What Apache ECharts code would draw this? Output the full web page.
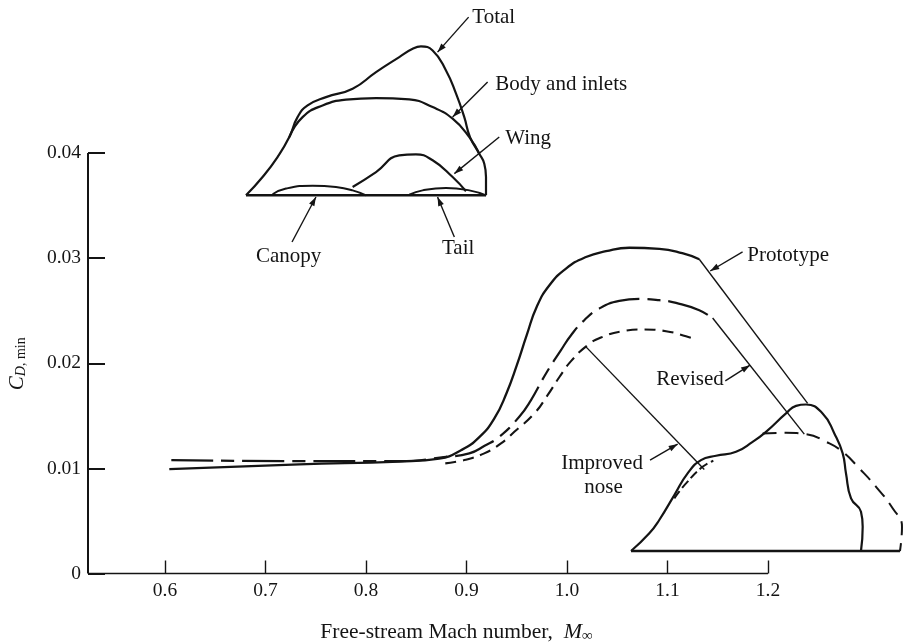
<!DOCTYPE html>
<html>
<head>
<meta charset="utf-8">
<style>html,body{margin:0;padding:0;background:#fff}#c{width:905px;height:643px}</style>
<script src="https://cdn.jsdelivr.net/npm/echarts@6/dist/echarts.min.js"></script>
</head>
<body>
<div id="c"></div>
<script>
// Drag curves: [Mach, CD]
const prototypeCurve = [[.6043,.00993],[.7336,.01038],[.8331,.01065],[.8729,.01093],[.8950,.01175],[.9130,.01300],[.9280,.01480],[.9400,.01720],[.9500,.01980],[.9600,.02270],[.9700,.02540],[.9825,.02742],[.9990,.02901],[1.0189,.03011],[1.0388,.03066],[1.0620,.03099],[1.0919,.03089],[1.1147,.03047],[1.1316,.02990]];
const revisedCurve = [[.6063,.01079],[.7336,.01069],[.8331,.01069],[.8796,.01110],[.9028,.01143],[.9180,.01215],[.9326,.01300],[.9525,.01491],[.9642,.01650],[.9791,.01903],[.9940,.02125],[1.0040,.02267],[1.0172,.02410],[1.0322,.02521],[1.0520,.02593],[1.0719,.02612],[1.0919,.02600],[1.1085,.02574],[1.1316,.02505],[1.1449,.02426]];
const improvedCurve = [[.8789,.01048],[.8978,.01079],[.9177,.01143],[.9343,.01238],[.9476,.01348],[.9675,.01523],[.9807,.01697],[.9923,.01867],[1.0040,.02020],[1.0205,.02172],[1.0338,.02245],[1.0553,.02305],[1.0769,.02321],[1.0985,.02305],[1.1184,.02258],[1.1285,.02225]];
// Upper inset (area distribution breakdown)
const insetBase = [[.6806,.03598],[.9194,.03598]];
const insetTotal = [[.6806,.03598],[.6971,.03772],[.7120,.03962],[.7237,.04152],[.7319,.04342],[.7419,.04453],[.7602,.04532],[.7867,.04612],[.8100,.04770],[.8331,.04913],[.8464,.04992],[.8547,.05014],[.8663,.04976],[.8796,.04786],[.8896,.04565],[.8978,.04342],[.9035,.04152],[.9127,.03994],[.9177,.03899],[.9194,.03772],[.9194,.03598]];
const insetBody = [[.7237,.04152],[.7369,.04342],[.7568,.04453],[.7801,.04508],[.8100,.04523],[.8431,.04510],[.8663,.04437],[.8862,.04327],[.9028,.04152],[.9127,.03994]];
const insetWing = [[.7867,.03677],[.8100,.03819],[.8331,.03978],[.8497,.03988],[.8663,.03931],[.8862,.03772],[.8995,.03636]];
const insetCanopy = [[.7071,.03608],[.7204,.03662],[.7469,.03690],[.7701,.03677],[.7867,.03645],[.8000,.03598]];
const insetTail = [[.8431,.03605],[.8563,.03645],[.8796,.03667],[.9028,.03645],[.9194,.03598]];
// Lower inset (prototype vs improved area distribution)
const lowerBase = [[1.0637,.00214],[1.3313,.00214]];
const lowerSolid = [[1.0637,.00214],[1.0819,.00382],[1.0918,.00509],[1.1068,.00746],[1.1200,.00952],[1.1333,.01079],[1.1483,.01120],[1.1682,.01158],[1.1847,.01253],[1.1980,.01348],[1.2179,.01523],[1.2279,.01595],[1.2378,.01608],[1.2543,.01523],[1.2660,.01333],[1.2743,.01143],[1.2776,.00952],[1.2826,.00715],[1.2925,.00587],[1.2942,.00445],[1.2925,.00214]];
const lowerDashA = [[1.1068,.00715],[1.1184,.00857],[1.1349,.01015],[1.1456,.01072]];
const lowerDashB = [[1.1946,.01333],[1.2179,.01338],[1.2378,.01326],[1.2577,.01253],[1.2743,.01158],[1.2908,.01000],[1.3075,.00825],[1.3240,.00620],[1.3333,.00445],[1.3313,.00214]];
// Leaders: x1, y1, x2, y2, arrow (1) at the second end
const leaders = [[1.1316,.0299,1.2394,.01618,0],[1.1449,.02431,1.2361,.01326,0],[1.0189,.02156,1.1366,.00990,0],
  [1.1747,.03059,1.1425,.02878,1],[1.1575,.01833,1.1821,.01982,1],[1.0826,.01079,1.1101,.01231,1],
  [.9021,.05293,.8712,.04960,1],[.9210,.04675,.8862,.04342,1],[.9326,.04152,.8879,.03804,1],[.7264,.03154,.7502,.03582,1],[.8879,.03202,.8712,.03582,1]];
const labelTexts = ['Total','Body and inlets','Wing','Canopy','Tail','Prototype','Revised','Improved','nose'];
const labelX = [.9058,.9287,.9386,.6905,.8756,1.1794,1.0887,.9943,1.0172];
const labelY = [.05290,.04653,.04140,.03018,.03094,.03027,.01849,.01050,.00822];
const xTicks = [0.6,0.7,0.8,0.9,1.0,1.1,1.2];
const yTicks = [0,0.01,0.02,0.03,0.04];
const xAxisRun = [[.5234,0],[1.2,0]];
const yAxisRun = [[.5234,0],[.5234,.04]];

const INK = '#141414', FONT = '"Liberation Serif","Times New Roman",serif';
const curve = (data, width, type, smooth) => ({
  type:'line', data, symbol:'none', clip:false, silent:true, animation:false,
  smooth: smooth === undefined ? 0.5 : smooth,
  lineStyle:{color:INK, width, type: type || 'solid', cap:'butt'}
});
const chart = echarts.init(document.getElementById('c'), null, {renderer:'canvas'});
chart.setOption({
  backgroundColor:'#fff', animation:false,
  grid:{left:88, right:0, top:0, bottom:69.5, outerBoundsMode:'none'},
  xAxis:{type:'value', min:.5234, max:1.3363,
    axisLine:{show:false},
    axisTick:{show:true,inside:true,length:13,customValues:xTicks,lineStyle:{color:INK,width:1.4}},
    axisLabel:{customValues:xTicks,color:INK,fontFamily:FONT,fontSize:19.5,margin:7,formatter:v=>Number(v).toFixed(1)},
    splitLine:{show:false},
    name:'{t|Free-stream Mach number,  }{i|M}{s|∞}', nameLocation:'middle', nameGap:48,
    nameTextStyle:{padding:[0,80,0,0],rich:{
      t:{fontFamily:FONT,fontSize:21.5,color:INK},
      i:{fontFamily:FONT,fontSize:22,fontStyle:'italic',color:INK},
      s:{fontFamily:FONT,fontSize:15,color:INK,verticalAlign:'bottom'}}}},
  yAxis:{type:'value', min:0, max:.05456,
    axisLine:{show:false},
    axisTick:{show:true,inside:true,length:17,customValues:yTicks,lineStyle:{color:INK,width:2}},
    axisLabel:{customValues:yTicks,color:INK,fontFamily:FONT,fontSize:19.5,margin:7,formatter:v=>v===0?'0':Number(v).toFixed(2)},
    splitLine:{show:false},
    name:'{i|C}{d|D}{m|, min}', nameLocation:'middle', nameGap:60, nameRotate:90,
    nameTextStyle:{padding:[0,154,0,0],rich:{
      i:{fontFamily:FONT,fontSize:21,fontStyle:'italic',color:INK},
      d:{fontFamily:FONT,fontSize:14,fontStyle:'italic',color:INK,verticalAlign:'bottom'},
      m:{fontFamily:FONT,fontSize:14,color:INK,verticalAlign:'bottom'}}}},
  series:[
    curve(xAxisRun,1.6,'solid',false),
    curve(yAxisRun,2,'solid',false),
    curve(prototypeCurve,2.3),
    curve(revisedCurve,2.2,[42,8,13,8]),
    curve(improvedCurve,2.1,[11,7]),
    curve(insetBase,2.6,'solid',false),
    curve(insetTotal,2.2),
    curve(insetBody,2.2),
    curve(insetWing,2.2),
    curve(insetCanopy,2),
    curve(insetTail,2),
    curve(lowerBase,2.3,'solid',false),
    curve(lowerSolid,2.2),
    curve(lowerDashA,2,[9,4]),
    curve(lowerDashB,2,[14,8]),
    {type:'custom', coordinateSystem:'cartesian2d', silent:true, animation:false, clip:false,
     data:leaders, encode:{x:[0,2],y:[1,3]},
     renderItem:(p,api)=>{
       const a=api.coord([api.value(0),api.value(1)]), b=api.coord([api.value(2),api.value(3)]);
       const arrow=api.value(4)===1, children=[{type:'line',shape:{x1:a[0],y1:a[1],x2:b[0],y2:b[1]},style:{stroke:INK,lineWidth:1.4}}];
       if(arrow){
         const an=Math.atan2(b[1]-a[1],b[0]-a[0]), L=9, W=3;
         const bx=b[0]-L*Math.cos(an), by=b[1]-L*Math.sin(an), nx=-Math.sin(an)*W, ny=Math.cos(an)*W;
         children.push({type:'polygon',shape:{points:[[b[0],b[1]],[bx+nx,by+ny],[bx-nx,by-ny]]},style:{fill:INK}});
       }
       return {type:'group',children};
     }},
    {type:'custom', coordinateSystem:'cartesian2d', silent:true, animation:false, clip:false,
     data:labelX.map((x,i)=>[x,labelY[i],i]), encode:{x:0,y:1},
     renderItem:(p,api)=>{
       const c=api.coord([api.value(0),api.value(1)]);
       return {type:'text',x:c[0],y:c[1],style:{text:labelTexts[api.value(2)],fill:INK,font:'21px '+FONT,textAlign:'left',textVerticalAlign:'middle'}};
     }}
  ]
});
</script>
</body>
</html>
